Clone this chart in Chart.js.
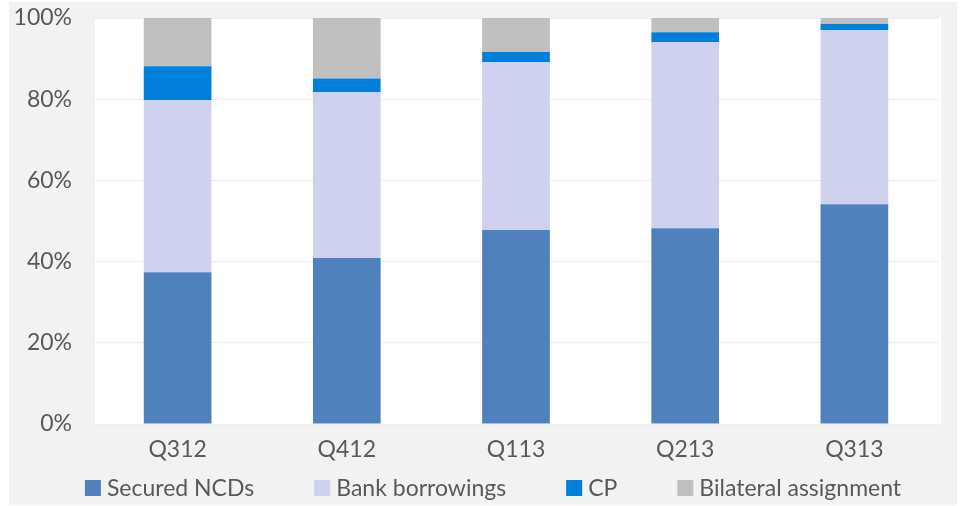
<!DOCTYPE html>
<html>
<head>
<meta charset="utf-8">
<script src="https://cdn.jsdelivr.net/npm/chart.js@4/dist/chart.umd.min.js"></script>
<style>
  html, body { margin: 0; padding: 0; background: #fff; }
  #wrap { width: 964px; height: 506px; }
</style>
</head>
<body>
<div id="wrap"><canvas id="mix-chart" width="964" height="506"></canvas></div>
<script>
// Funding mix by quarter (% of total)
const quarters = ["Q312", "Q412", "Q113", "Q213", "Q313"];
const securedNCDs = [37.4, 40.9, 47.8, 48.2, 54.1];
const bankBorrowings = [42.4, 40.9, 41.3, 45.9, 42.9];
const cp = [8.3, 3.3, 2.5, 2.4, 1.5];
const bilateral = [11.9, 14.9, 8.4, 3.5, 1.5];
const yTicks = [0, 20, 40, 60, 80, 100];

const FONT = "Lato, 'Open Sans', sans-serif";
const TEXT = "#595959";

// grey frame + white plot area, like the Excel original
const backdrop = {
  id: "backdrop",
  beforeDraw(chart) {
    const { ctx, chartArea: a } = chart;
    ctx.save();
    ctx.fillStyle = "#f2f2f2";
    ctx.fillRect(9, 2, 948, 503);
    ctx.fillStyle = "#ffffff";
    ctx.fillRect(a.left + 2, a.top, a.right - a.left, a.bottom - a.top);
    ctx.restore();
  },
};

// Excel-style legend row: wide gaps between entries
const wideLegend = {
  id: "wideLegend",
  afterDraw(chart) {
    const { ctx } = chart;
    const sets = chart.data.datasets;
    const box = 16, gapText = 6, gapItem = 60, cy = 488;
    ctx.save();
    ctx.font = "23px " + FONT;
    ctx.textBaseline = "middle";
    const widths = sets.map((d) => box + gapText + ctx.measureText(d.label).width);
    const total = widths.reduce((s, w) => s + w, 0) + gapItem * (sets.length - 1);
    let x = 493 - total / 2;
    sets.forEach((d, i) => {
      ctx.fillStyle = d.backgroundColor;
      ctx.fillRect(x, cy - box / 2, box, box);
      ctx.fillStyle = TEXT;
      ctx.fillText(d.label, x + box + gapText, cy + 1);
      x += widths[i] + gapItem;
    });
    ctx.restore();
  },
};

const ctx = document.getElementById("mix-chart").getContext("2d");
new Chart(ctx, {
  type: "bar",
  data: {
    labels: quarters,
    datasets: [
      { label: "Secured NCDs", data: securedNCDs, backgroundColor: "#4f81bd" },
      { label: "Bank borrowings", data: bankBorrowings, backgroundColor: "#d0d0ef" },
      { label: "CP", data: cp, backgroundColor: "#0080dc" },
      { label: "Bilateral assignment", data: bilateral, backgroundColor: "#bfbfbf" },
    ],
  },
  options: {
    responsive: false,
    animation: false,
    layout: { padding: { left: 9, right: 25, top: 18, bottom: 42 } },
    datasets: { bar: { categoryPercentage: 1, barPercentage: 0.4 } },
    scales: {
      x: {
        stacked: true,
        grid: { display: false, drawTicks: false },
        border: { display: false },
        ticks: { color: TEXT, font: { family: FONT, size: 23 }, padding: 12 },
        afterFit(scale) {
          scale.height = 40;
        },
      },
      y: {
        stacked: true,
        min: 0,
        max: 100,
        afterBuildTicks(scale) {
          scale.ticks = yTicks.map((v) => ({ value: v }));
        },
        afterFit(scale) {
          scale.width = 84;
          scale.paddingTop = 0;
          scale.paddingBottom = 0;
        },
        grid: { color: "#eeeeee", drawTicks: false },
        border: { display: false },
        ticks: {
          color: TEXT,
          font: { family: FONT, size: 23 },
          padding: 21,
          callback: (v) => v + "%",
        },
      },
    },
    plugins: {
      legend: { display: false },
      tooltip: { enabled: false },
    },
  },
  plugins: [backdrop, wideLegend],
});
</script>
</body>
</html>
